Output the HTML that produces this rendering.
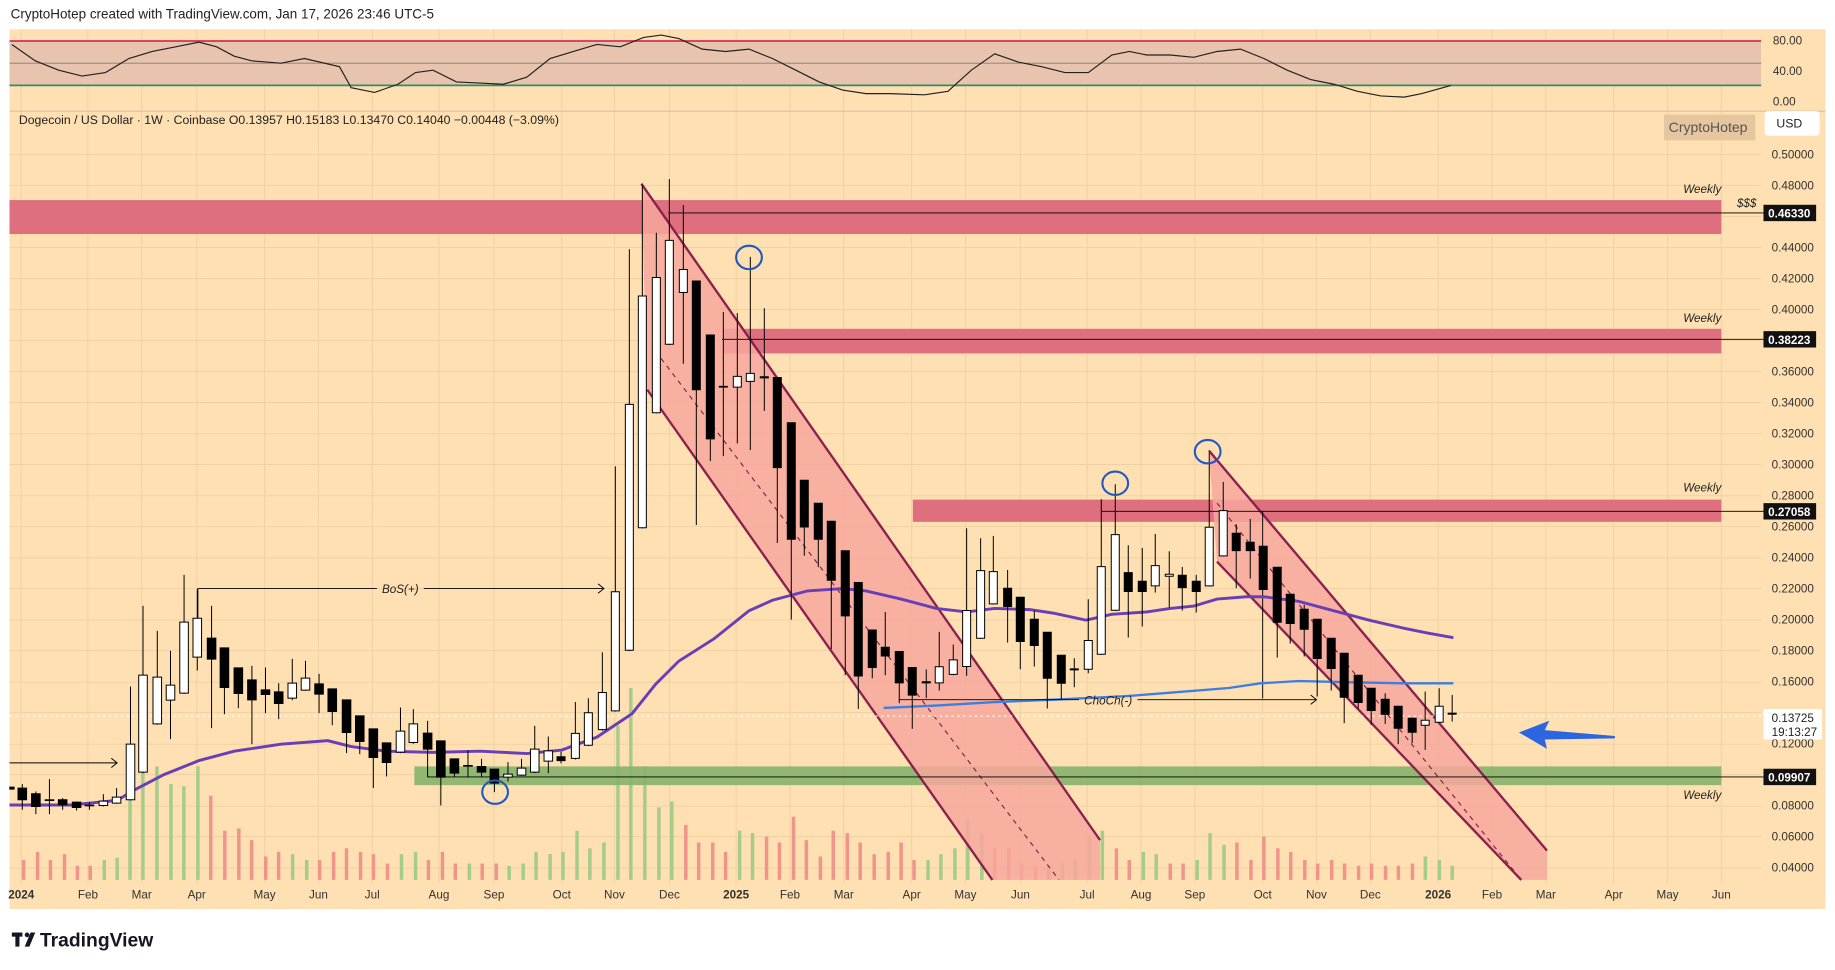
<!DOCTYPE html>
<html><head><meta charset="utf-8"><style>
html,body{margin:0;padding:0;background:#fff;width:1835px;height:970px;overflow:hidden}
svg{display:block}
text{font-family:"Liberation Sans",sans-serif}
.cd line{stroke:#000;stroke-width:1;vector-effect:non-scaling-stroke}
.cd .w{fill:#fff;stroke:#000;stroke-width:1;vector-effect:non-scaling-stroke}
.cd .b{fill:#000;stroke:#000;stroke-width:1;vector-effect:non-scaling-stroke}
.ax text{font-size:10px;fill:#333}
.g line{stroke:#f0cfa4;stroke-width:0.8}
</style></head><body>
<svg width="1835" height="970" viewBox="0 0 1568 829" xmlns="http://www.w3.org/2000/svg">
<rect x="0" y="0" width="1568" height="829" fill="#fff"/>
<text x="9" y="16" font-size="11.5" fill="#222">CryptoHotep created with TradingView.com, Jan 17, 2026 23:46 UTC-5</text>
<rect x="8" y="25" width="1552" height="752" fill="#ffe0b2"/>
<g class="g">
<line x1="18" y1="25" x2="18" y2="755"/><line x1="75" y1="25" x2="75" y2="755"/><line x1="121" y1="25" x2="121" y2="755"/><line x1="168" y1="25" x2="168" y2="755"/><line x1="226" y1="25" x2="226" y2="755"/><line x1="272" y1="25" x2="272" y2="755"/><line x1="318" y1="25" x2="318" y2="755"/><line x1="375" y1="25" x2="375" y2="755"/><line x1="422" y1="25" x2="422" y2="755"/><line x1="480" y1="25" x2="480" y2="755"/><line x1="525" y1="25" x2="525" y2="755"/><line x1="572" y1="25" x2="572" y2="755"/><line x1="629" y1="25" x2="629" y2="755"/><line x1="675" y1="25" x2="675" y2="755"/><line x1="721" y1="25" x2="721" y2="755"/><line x1="779" y1="25" x2="779" y2="755"/><line x1="825" y1="25" x2="825" y2="755"/><line x1="872" y1="25" x2="872" y2="755"/><line x1="929" y1="25" x2="929" y2="755"/><line x1="975" y1="25" x2="975" y2="755"/><line x1="1021" y1="25" x2="1021" y2="755"/><line x1="1079" y1="25" x2="1079" y2="755"/><line x1="1125" y1="25" x2="1125" y2="755"/><line x1="1171" y1="25" x2="1171" y2="755"/><line x1="1229" y1="25" x2="1229" y2="755"/><line x1="1275" y1="25" x2="1275" y2="755"/><line x1="1321" y1="25" x2="1321" y2="755"/><line x1="1379" y1="25" x2="1379" y2="755"/><line x1="1425" y1="25" x2="1425" y2="755"/><line x1="1471" y1="25" x2="1471" y2="755"/>
<line x1="8" y1="132" x2="1505" y2="132"/><line x1="8" y1="158.5" x2="1505" y2="158.5"/><line x1="8" y1="185" x2="1505" y2="185"/><line x1="8" y1="211.6" x2="1505" y2="211.6"/><line x1="8" y1="238" x2="1505" y2="238"/><line x1="8" y1="264.6" x2="1505" y2="264.6"/><line x1="8" y1="291" x2="1505" y2="291"/><line x1="8" y1="317.6" x2="1505" y2="317.6"/><line x1="8" y1="344" x2="1505" y2="344"/><line x1="8" y1="370.7" x2="1505" y2="370.7"/><line x1="8" y1="397" x2="1505" y2="397"/><line x1="8" y1="423.7" x2="1505" y2="423.7"/><line x1="8" y1="450" x2="1505" y2="450"/><line x1="8" y1="476.8" x2="1505" y2="476.8"/><line x1="8" y1="503" x2="1505" y2="503"/><line x1="8" y1="529.8" x2="1505" y2="529.8"/><line x1="8" y1="556" x2="1505" y2="556"/><line x1="8" y1="583" x2="1505" y2="583"/><line x1="8" y1="609" x2="1505" y2="609"/><line x1="8" y1="636" x2="1505" y2="636"/><line x1="8" y1="662" x2="1505" y2="662"/><line x1="8" y1="689" x2="1505" y2="689"/><line x1="8" y1="715" x2="1505" y2="715"/><line x1="8" y1="742" x2="1505" y2="742"/>
</g>
<rect x="8" y="35" width="1497" height="38" fill="#e8c3ae"/>
<line x1="8" y1="35" x2="1505" y2="35" stroke="#d0325a" stroke-width="1.5"/>
<line x1="8" y1="54" x2="1505" y2="54" stroke="#8a7a70" stroke-width="0.7"/>
<line x1="8" y1="73" x2="1505" y2="73" stroke="#2f8f67" stroke-width="1.5"/>
<line x1="8" y1="95" x2="1560" y2="95" stroke="#d9c2a0" stroke-width="1"/>
<polyline fill="none" stroke="#222" stroke-width="1" points="10,38 30,52 50,60 70,65 90,62 110,50 130,44 150,40 170,36 185,40 200,48 215,52 240,54 260,50 290,57 300,75 320,79 340,72 355,62 370,60 390,70 410,71 430,72 450,66 470,50 490,44 510,38 530,40 550,32 565,30 580,33 600,42 620,44 640,42 660,50 680,60 700,70 720,77 740,80 760,80 790,81 810,78 830,60 850,46 870,53 890,57 910,62 930,62 950,47 965,44 980,47 1000,47 1020,49 1040,44 1060,42 1080,50 1100,60 1120,68 1140,72 1160,78 1180,82 1200,83 1215,80 1240,73"/>
<g class="ax"><text x="1515" y="38">80.00</text><text x="1515" y="64">40.00</text><text x="1515" y="90">0.00</text></g>
<text x="16" y="106" font-size="10.5" fill="#222">Dogecoin / US Dollar · 1W · Coinbase  O0.13957  H0.15183  L0.13470  C0.14040  −0.00448 (−3.09%)</text>
<rect x="1422" y="98" width="78" height="22" fill="#e6c69e"/>
<text x="1426" y="113" font-size="12" fill="#555">CryptoHotep</text>
<rect x="1508" y="95" width="47" height="21" rx="3" fill="#fff"/>
<text x="1518" y="109" font-size="10.5" fill="#222">USD</text>
<g stroke-width="3">
<line x1="20" y1="752" x2="20" y2="735" stroke="#f0958a"/><line x1="32" y1="752" x2="32" y2="728" stroke="#f0958a"/><line x1="43" y1="752" x2="43" y2="735" stroke="#f0958a"/><line x1="55" y1="752" x2="55" y2="730" stroke="#f0958a"/><line x1="66" y1="752" x2="66" y2="740" stroke="#f0958a"/><line x1="77" y1="752" x2="77" y2="740" stroke="#f0958a"/><line x1="89" y1="752" x2="89" y2="735" stroke="#a6cc8a"/><line x1="100" y1="752" x2="100" y2="733" stroke="#a6cc8a"/><line x1="111" y1="752" x2="111" y2="640" stroke="#a6cc8a"/><line x1="122" y1="752" x2="122" y2="600" stroke="#a6cc8a"/><line x1="134" y1="752" x2="134" y2="655" stroke="#a6cc8a"/><line x1="146" y1="752" x2="146" y2="670" stroke="#a6cc8a"/><line x1="157" y1="752" x2="157" y2="672" stroke="#a6cc8a"/><line x1="169" y1="752" x2="169" y2="655" stroke="#a6cc8a"/><line x1="180" y1="752" x2="180" y2="680" stroke="#f0958a"/><line x1="192" y1="752" x2="192" y2="710" stroke="#f0958a"/><line x1="204" y1="752" x2="204" y2="708" stroke="#f0958a"/><line x1="215" y1="752" x2="215" y2="718" stroke="#f0958a"/><line x1="227" y1="752" x2="227" y2="732" stroke="#f0958a"/><line x1="238" y1="752" x2="238" y2="728" stroke="#f0958a"/><line x1="250" y1="752" x2="250" y2="730" stroke="#a6cc8a"/><line x1="262" y1="752" x2="262" y2="735" stroke="#a6cc8a"/><line x1="273" y1="752" x2="273" y2="735" stroke="#f0958a"/><line x1="285" y1="752" x2="285" y2="728" stroke="#f0958a"/><line x1="296" y1="752" x2="296" y2="725" stroke="#f0958a"/><line x1="308" y1="752" x2="308" y2="728" stroke="#f0958a"/><line x1="319" y1="752" x2="319" y2="730" stroke="#f0958a"/><line x1="331" y1="752" x2="331" y2="738" stroke="#f0958a"/><line x1="343" y1="752" x2="343" y2="730" stroke="#a6cc8a"/><line x1="355" y1="752" x2="355" y2="728" stroke="#a6cc8a"/><line x1="366" y1="752" x2="366" y2="735" stroke="#f0958a"/><line x1="378" y1="752" x2="378" y2="728" stroke="#f0958a"/><line x1="389" y1="752" x2="389" y2="738" stroke="#f0958a"/><line x1="401" y1="752" x2="401" y2="738" stroke="#a6cc8a"/><line x1="412" y1="752" x2="412" y2="738" stroke="#f0958a"/><line x1="424" y1="752" x2="424" y2="738" stroke="#f0958a"/><line x1="435" y1="752" x2="435" y2="740" stroke="#a6cc8a"/><line x1="447" y1="752" x2="447" y2="738" stroke="#a6cc8a"/><line x1="458" y1="752" x2="458" y2="728" stroke="#a6cc8a"/><line x1="470" y1="752" x2="470" y2="730" stroke="#a6cc8a"/><line x1="481" y1="752" x2="481" y2="728" stroke="#a6cc8a"/><line x1="493" y1="752" x2="493" y2="710" stroke="#a6cc8a"/><line x1="504" y1="752" x2="504" y2="725" stroke="#a6cc8a"/><line x1="516" y1="752" x2="516" y2="720" stroke="#a6cc8a"/><line x1="528" y1="752" x2="528" y2="620" stroke="#a6cc8a"/><line x1="539" y1="752" x2="539" y2="588" stroke="#a6cc8a"/><line x1="551" y1="752" x2="551" y2="655" stroke="#a6cc8a"/><line x1="563" y1="752" x2="563" y2="690" stroke="#a6cc8a"/><line x1="574" y1="752" x2="574" y2="685" stroke="#a6cc8a"/><line x1="586" y1="752" x2="586" y2="705" stroke="#f0958a"/><line x1="597" y1="752" x2="597" y2="720" stroke="#f0958a"/><line x1="609" y1="752" x2="609" y2="720" stroke="#f0958a"/><line x1="620" y1="752" x2="620" y2="728" stroke="#f0958a"/><line x1="632" y1="752" x2="632" y2="710" stroke="#a6cc8a"/><line x1="643" y1="752" x2="643" y2="712" stroke="#a6cc8a"/><line x1="655" y1="752" x2="655" y2="715" stroke="#f0958a"/><line x1="666" y1="752" x2="666" y2="720" stroke="#f0958a"/><line x1="678" y1="752" x2="678" y2="698" stroke="#f0958a"/><line x1="689" y1="752" x2="689" y2="718" stroke="#f0958a"/><line x1="701" y1="752" x2="701" y2="732" stroke="#f0958a"/><line x1="712" y1="752" x2="712" y2="710" stroke="#f0958a"/><line x1="724" y1="752" x2="724" y2="712" stroke="#f0958a"/><line x1="735" y1="752" x2="735" y2="720" stroke="#f0958a"/><line x1="747" y1="752" x2="747" y2="730" stroke="#f0958a"/><line x1="759" y1="752" x2="759" y2="728" stroke="#f0958a"/><line x1="770" y1="752" x2="770" y2="720" stroke="#f0958a"/><line x1="781" y1="752" x2="781" y2="735" stroke="#f0958a"/><line x1="793" y1="752" x2="793" y2="735" stroke="#a6cc8a"/><line x1="804" y1="752" x2="804" y2="730" stroke="#a6cc8a"/><line x1="816" y1="752" x2="816" y2="725" stroke="#a6cc8a"/><line x1="827" y1="752" x2="827" y2="700" stroke="#a6cc8a"/><line x1="839" y1="752" x2="839" y2="712" stroke="#a6cc8a"/><line x1="850" y1="752" x2="850" y2="725" stroke="#f0958a"/><line x1="862" y1="752" x2="862" y2="725" stroke="#f0958a"/><line x1="873" y1="752" x2="873" y2="738" stroke="#f0958a"/><line x1="885" y1="752" x2="885" y2="740" stroke="#f0958a"/><line x1="896" y1="752" x2="896" y2="740" stroke="#f0958a"/><line x1="908" y1="752" x2="908" y2="738" stroke="#a6cc8a"/><line x1="919" y1="752" x2="919" y2="735" stroke="#a6cc8a"/><line x1="931" y1="752" x2="931" y2="715" stroke="#a6cc8a"/><line x1="942" y1="752" x2="942" y2="710" stroke="#a6cc8a"/><line x1="954" y1="752" x2="954" y2="725" stroke="#f0958a"/><line x1="965" y1="752" x2="965" y2="735" stroke="#f0958a"/><line x1="977" y1="752" x2="977" y2="728" stroke="#a6cc8a"/><line x1="988" y1="752" x2="988" y2="730" stroke="#a6cc8a"/><line x1="1000" y1="752" x2="1000" y2="738" stroke="#f0958a"/><line x1="1011" y1="752" x2="1011" y2="738" stroke="#f0958a"/><line x1="1023" y1="752" x2="1023" y2="735" stroke="#a6cc8a"/><line x1="1034" y1="752" x2="1034" y2="712" stroke="#a6cc8a"/><line x1="1046" y1="752" x2="1046" y2="722" stroke="#a6cc8a"/><line x1="1057" y1="752" x2="1057" y2="720" stroke="#f0958a"/><line x1="1069" y1="752" x2="1069" y2="735" stroke="#f0958a"/><line x1="1080" y1="752" x2="1080" y2="715" stroke="#f0958a"/><line x1="1092" y1="752" x2="1092" y2="725" stroke="#f0958a"/><line x1="1103" y1="752" x2="1103" y2="728" stroke="#f0958a"/><line x1="1115" y1="752" x2="1115" y2="735" stroke="#f0958a"/><line x1="1126" y1="752" x2="1126" y2="738" stroke="#f0958a"/><line x1="1138" y1="752" x2="1138" y2="735" stroke="#f0958a"/><line x1="1149" y1="752" x2="1149" y2="738" stroke="#f0958a"/><line x1="1161" y1="752" x2="1161" y2="740" stroke="#f0958a"/><line x1="1172" y1="752" x2="1172" y2="738" stroke="#f0958a"/><line x1="1184" y1="752" x2="1184" y2="740" stroke="#f0958a"/><line x1="1195" y1="752" x2="1195" y2="740" stroke="#f0958a"/><line x1="1207" y1="752" x2="1207" y2="738" stroke="#f0958a"/><line x1="1218" y1="752" x2="1218" y2="732" stroke="#a6cc8a"/><line x1="1230" y1="752" x2="1230" y2="735" stroke="#a6cc8a"/><line x1="1241" y1="752" x2="1241" y2="740" stroke="#a6cc8a"/>
</g>
<rect x="8" y="171" width="1463" height="29" fill="#dd6f7f"/>
<rect x="618" y="281" width="853" height="21" fill="#dd6f7f"/>
<rect x="780" y="427" width="691" height="19" fill="#dd6f7f"/>
<rect x="354" y="655" width="1117" height="16" fill="#86b26a" fill-opacity="0.9"/>
<polygon points="548,157 940,718 940,752 848,752 553,333" fill="#f7a79c" fill-opacity="0.85"/>
<line x1="548" y1="157" x2="940" y2="718" stroke="#8b1f4e" stroke-width="2"/>
<line x1="553" y1="333" x2="848" y2="752" stroke="#8b1f4e" stroke-width="2"/>
<line x1="560" y1="300" x2="905" y2="752" stroke="#8b1f4e" stroke-width="1" stroke-dasharray="4,4"/>
<polygon points="1033,385 1322,727 1322,752 1300,752 1040,480" fill="#f7a79c" fill-opacity="0.85"/>
<line x1="1033" y1="385" x2="1322" y2="727" stroke="#8b1f4e" stroke-width="2"/>
<line x1="1040" y1="480" x2="1300" y2="752" stroke="#8b1f4e" stroke-width="2"/>
<line x1="1040" y1="430" x2="1300" y2="752" stroke="#8b1f4e" stroke-width="1" stroke-dasharray="4,4"/>
<line x1="571" y1="182" x2="1507" y2="182" stroke="#000" stroke-width="0.8"/>
<line x1="617" y1="290" x2="1507" y2="290" stroke="#000" stroke-width="0.8"/>
<line x1="941" y1="437" x2="1507" y2="437" stroke="#000" stroke-width="0.8"/>
<line x1="365" y1="664" x2="1507" y2="664" stroke="#000" stroke-width="0.8"/>
<line x1="1079" y1="437" x2="1079" y2="597" stroke="#000" stroke-width="0.8"/>
<line x1="8" y1="612" x2="1505" y2="612" stroke="#fff" stroke-width="1" stroke-dasharray="2,3"/>
<polyline fill="none" stroke="#6a3fb5" stroke-width="2.5" points="8,688 60,688 100,684 115,675 140,662 170,650 200,642 240,636 280,633 300,638 330,642 370,643 410,642 450,644 480,641 510,630 540,610 560,585 580,565 610,546 640,522 660,513 690,505 720,503 740,505 770,512 800,520 826,523 850,520 880,521 900,524 928,530 950,525 980,523 1000,520 1020,518 1040,512 1065,510 1080,510 1110,514 1140,522 1170,530 1200,537 1220,541 1242,545"/>
<polyline fill="none" stroke="#3d7fe0" stroke-width="2" points="755,605 800,603 850,600 900,598 962,595 1000,592 1050,588 1077,584 1110,582 1150,583 1200,584 1242,584"/>
<polyline fill="none" stroke="#000" stroke-width="0.8" points="169,528 169,503 322,503"/>
<line x1="362" y1="503" x2="516" y2="503" stroke="#000" stroke-width="0.8"/>
<polyline fill="none" stroke="#000" stroke-width="0.8" points="511,499 516,503 511,507"/>
<text x="342" y="507" font-size="10" font-style="italic" text-anchor="middle" fill="#222">BoS(+)</text>
<line x1="8" y1="652" x2="100" y2="652" stroke="#000" stroke-width="0.8"/>
<polyline fill="none" stroke="#000" stroke-width="0.8" points="95,648 100,652 95,656"/>
<line x1="768" y1="598" x2="922" y2="598" stroke="#000" stroke-width="0.8"/>
<line x1="972" y1="598" x2="1125" y2="598" stroke="#000" stroke-width="0.8"/>
<polyline fill="none" stroke="#000" stroke-width="0.8" points="1120,594 1125,598 1120,602"/>
<text x="947" y="602" font-size="10" font-style="italic" text-anchor="middle" fill="#222">ChoCh(-)</text>
<g font-size="10" font-style="italic" fill="#222" text-anchor="end"><text x="1471" y="165">Weekly</text><text x="1471" y="275">Weekly</text><text x="1471" y="420">Weekly</text><text x="1471" y="683">Weekly</text><text x="1501" y="177">$$$</text></g>
<g class="cd" transform="translate(0,461.4) scale(0.3052,0.2848)">
<rect class="b" x="27" y="742" width="12" height="6"/>
<line x1="62" y1="733" x2="62" y2="810"/><rect class="b" x="50" y="745" width="24" height="35"/>
<line x1="100" y1="755" x2="100" y2="823"/><rect class="b" x="88" y="762" width="24" height="38"/>
<line x1="138" y1="718" x2="138" y2="823"/><rect class="b" x="126" y="780" width="24" height="2"/>
<line x1="175" y1="775" x2="175" y2="810"/><rect class="b" x="163" y="780" width="24" height="15"/>
<line x1="214" y1="785" x2="214" y2="812"/><rect class="b" x="202" y="787" width="24" height="16"/>
<line x1="250" y1="787" x2="250" y2="810"/><rect class="b" x="238" y="796" width="24" height="2"/>
<line x1="289" y1="763" x2="289" y2="800"/><rect class="w" x="277" y="784" width="24" height="13"/>
<line x1="326" y1="745" x2="326" y2="792"/><rect class="w" x="314" y="772" width="24" height="18"/>
<line x1="365" y1="440" x2="365" y2="782"/><rect class="w" x="353" y="613" width="24" height="167"/>
<line x1="400" y1="198" x2="400" y2="700"/><rect class="w" x="388" y="406" width="24" height="291"/>
<line x1="440" y1="273" x2="440" y2="555"/><rect class="w" x="428" y="412" width="24" height="140"/>
<line x1="477" y1="333" x2="477" y2="598"/><rect class="w" x="465" y="436" width="24" height="45"/>
<line x1="515" y1="105" x2="515" y2="462"/><rect class="w" x="503" y="247" width="24" height="213"/>
<line x1="552" y1="148" x2="552" y2="392"/><rect class="w" x="540" y="235" width="24" height="117"/>
<line x1="592" y1="198" x2="592" y2="565"/><rect class="b" x="580" y="295" width="24" height="63"/>
<line x1="628" y1="324" x2="628" y2="523"/><rect class="b" x="616" y="324" width="24" height="119"/>
<line x1="667" y1="384" x2="667" y2="505"/><rect class="b" x="655" y="384" width="24" height="77"/>
<line x1="705" y1="378" x2="705" y2="613"/><rect class="b" x="693" y="420" width="24" height="60"/>
<line x1="743" y1="383" x2="743" y2="520"/><rect class="b" x="731" y="450" width="24" height="14"/>
<line x1="780" y1="430" x2="780" y2="538"/><rect class="b" x="768" y="456" width="24" height="35"/>
<line x1="818" y1="357" x2="818" y2="481"/><rect class="w" x="806" y="430" width="24" height="45"/>
<line x1="855" y1="363" x2="855" y2="453"/><rect class="w" x="843" y="415" width="24" height="36"/>
<line x1="893" y1="402" x2="893" y2="520"/><rect class="b" x="881" y="432" width="24" height="31"/>
<line x1="930" y1="447" x2="930" y2="556"/><rect class="b" x="918" y="447" width="24" height="68"/>
<line x1="970" y1="480" x2="970" y2="640"/><rect class="b" x="958" y="480" width="24" height="98"/>
<line x1="1007" y1="528" x2="1007" y2="643"/><rect class="b" x="995" y="528" width="24" height="77"/>
<line x1="1045" y1="567" x2="1045" y2="745"/><rect class="b" x="1033" y="567" width="24" height="86"/>
<line x1="1082" y1="609" x2="1082" y2="710"/><rect class="b" x="1070" y="609" width="24" height="59"/>
<line x1="1121" y1="503" x2="1121" y2="640"/><rect class="w" x="1109" y="574" width="24" height="63"/>
<line x1="1157" y1="508" x2="1157" y2="612"/><rect class="w" x="1145" y="552" width="24" height="56"/>
<line x1="1197" y1="543" x2="1197" y2="712"/><rect class="b" x="1185" y="580" width="24" height="48"/>
<line x1="1234" y1="603" x2="1234" y2="797"/><rect class="b" x="1222" y="603" width="24" height="109"/>
<line x1="1272" y1="657" x2="1272" y2="712"/><rect class="b" x="1260" y="657" width="24" height="43"/>
<line x1="1310" y1="632" x2="1310" y2="712"/><rect class="b" x="1298" y="677" width="24" height="2"/>
<line x1="1348" y1="657" x2="1348" y2="712"/><rect class="b" x="1336" y="680" width="24" height="17"/>
<line x1="1384" y1="688" x2="1384" y2="757"/><rect class="b" x="1372" y="688" width="24" height="42"/>
<line x1="1422" y1="667" x2="1422" y2="725"/><rect class="w" x="1410" y="703" width="24" height="9"/>
<line x1="1460" y1="657" x2="1460" y2="708"/><rect class="w" x="1448" y="685" width="24" height="21"/>
<line x1="1497" y1="558" x2="1497" y2="700"/><rect class="w" x="1485" y="628" width="24" height="69"/>
<line x1="1535" y1="590" x2="1535" y2="700"/><rect class="w" x="1523" y="633" width="24" height="31"/>
</g>
<g class="cd" transform="translate(461.4,136.7) scale(0.2848,0.3274)">
<line x1="63" y1="1545" x2="63" y2="1575"/><rect class="b" x="51" y="1558" width="24" height="10"/>
<line x1="106" y1="1415" x2="106" y2="1565"/><rect class="w" x="94" y="1497" width="24" height="65"/>
<line x1="145" y1="1405" x2="145" y2="1530"/><rect class="w" x="133" y="1443" width="24" height="85"/>
<line x1="187" y1="1285" x2="187" y2="1490"/><rect class="w" x="175" y="1390" width="24" height="97"/>
<line x1="226" y1="800" x2="226" y2="1440"/><rect class="w" x="214" y="1127" width="24" height="311"/>
<line x1="268" y1="233" x2="268" y2="1282"/><rect class="w" x="256" y="638" width="24" height="642"/>
<line x1="307" y1="65" x2="307" y2="962"/><rect class="w" x="295" y="355" width="24" height="605"/>
<line x1="349" y1="190" x2="349" y2="662"/><rect class="w" x="337" y="307" width="24" height="353"/>
<line x1="388" y1="50" x2="388" y2="483"/><rect class="w" x="376" y="210" width="24" height="271"/>
<line x1="430" y1="118" x2="430" y2="532"/><rect class="w" x="418" y="286" width="24" height="60"/>
<line x1="469" y1="316" x2="469" y2="953"/><rect class="b" x="457" y="316" width="24" height="284"/>
<line x1="511" y1="457" x2="511" y2="786"/><rect class="b" x="499" y="457" width="24" height="271"/>
<line x1="550" y1="397" x2="550" y2="773"/><rect class="b" x="538" y="591" width="24" height="2"/>
<line x1="592" y1="400" x2="592" y2="740"/><rect class="w" x="580" y="565" width="24" height="28"/>
<line x1="631" y1="253" x2="631" y2="757"/><rect class="w" x="619" y="557" width="24" height="21"/>
<line x1="673" y1="387" x2="673" y2="655"/><rect class="b" x="661" y="566" width="24" height="3"/>
<line x1="712" y1="568" x2="712" y2="1000"/><rect class="b" x="700" y="568" width="24" height="235"/>
<line x1="754" y1="686" x2="754" y2="1200"/><rect class="b" x="742" y="686" width="24" height="304"/>
<line x1="793" y1="836" x2="793" y2="1033"/><rect class="b" x="781" y="836" width="24" height="122"/>
<line x1="835" y1="896" x2="835" y2="1063"/><rect class="b" x="823" y="896" width="24" height="94"/>
<line x1="874" y1="943" x2="874" y2="1277"/><rect class="b" x="862" y="943" width="24" height="154"/>
<line x1="916" y1="1020" x2="916" y2="1345"/><rect class="b" x="904" y="1020" width="24" height="170"/>
<line x1="955" y1="1103" x2="955" y2="1433"/><rect class="b" x="943" y="1103" width="24" height="244"/>
<line x1="997" y1="1227" x2="997" y2="1353"/><rect class="b" x="985" y="1227" width="24" height="98"/>
<line x1="1036" y1="1180" x2="1036" y2="1345"/><rect class="b" x="1024" y="1272" width="24" height="23"/>
<line x1="1078" y1="1283" x2="1078" y2="1418"/><rect class="b" x="1066" y="1283" width="24" height="82"/>
<line x1="1117" y1="1325" x2="1117" y2="1485"/><rect class="b" x="1105" y="1325" width="24" height="72"/>
<line x1="1159" y1="1330" x2="1159" y2="1405"/><rect class="b" x="1147" y="1362" width="24" height="3"/>
<line x1="1198" y1="1232" x2="1198" y2="1385"/><rect class="w" x="1186" y="1323" width="24" height="42"/>
<line x1="1240" y1="1265" x2="1240" y2="1345"/><rect class="w" x="1228" y="1305" width="24" height="38"/>
</g>
<g class="cd" transform="translate(820.3,358.9) scale(0.2848,0.2848)">
<line x1="20" y1="325" x2="20" y2="768"/><rect class="w" x="8" y="572" width="24" height="168"/>
<line x1="62" y1="355" x2="62" y2="657"/><rect class="w" x="50" y="452" width="24" height="203"/>
<line x1="100" y1="348" x2="100" y2="554"/><rect class="w" x="88" y="455" width="24" height="97"/>
<line x1="143" y1="450" x2="143" y2="668"/><rect class="b" x="131" y="505" width="24" height="55"/>
<line x1="181" y1="532" x2="181" y2="748"/><rect class="b" x="169" y="532" width="24" height="133"/>
<line x1="223" y1="572" x2="223" y2="740"/><rect class="b" x="211" y="598" width="24" height="79"/>
<line x1="262" y1="637" x2="262" y2="866"/><rect class="b" x="250" y="637" width="24" height="138"/>
<line x1="304" y1="706" x2="304" y2="838"/><rect class="b" x="292" y="706" width="24" height="84"/>
<line x1="343" y1="715" x2="343" y2="802"/><rect class="b" x="331" y="747" width="24" height="3"/>
<line x1="385" y1="538" x2="385" y2="760"/><rect class="w" x="373" y="662" width="24" height="86"/>
<line x1="424" y1="238" x2="424" y2="705"/><rect class="w" x="412" y="440" width="24" height="263"/>
<line x1="466" y1="193" x2="466" y2="573"/><rect class="w" x="454" y="344" width="24" height="227"/>
<line x1="505" y1="376" x2="505" y2="653"/><rect class="b" x="493" y="458" width="24" height="57"/>
<line x1="547" y1="384" x2="547" y2="620"/><rect class="b" x="535" y="484" width="24" height="31"/>
<line x1="586" y1="342" x2="586" y2="518"/><rect class="w" x="574" y="437" width="24" height="61"/>
<line x1="628" y1="394" x2="628" y2="563"/><rect class="w" x="616" y="463" width="24" height="6"/>
<line x1="667" y1="441" x2="667" y2="572"/><rect class="b" x="655" y="466" width="24" height="37"/>
<line x1="709" y1="465" x2="709" y2="578"/><rect class="b" x="697" y="484" width="24" height="31"/>
<line x1="748" y1="98" x2="748" y2="500"/><rect class="w" x="736" y="322" width="24" height="176"/>
<line x1="790" y1="186" x2="790" y2="410"/><rect class="w" x="778" y="272" width="24" height="136"/>
<line x1="829" y1="313" x2="829" y2="505"/><rect class="b" x="817" y="340" width="24" height="52"/>
<line x1="871" y1="297" x2="871" y2="476"/><rect class="b" x="859" y="367" width="24" height="25"/>
<line x1="910" y1="379" x2="910" y2="509"/><rect class="b" x="898" y="379" width="24" height="130"/>
<line x1="952" y1="442" x2="952" y2="713"/><rect class="b" x="940" y="442" width="24" height="165"/>
<line x1="991" y1="523" x2="991" y2="671"/><rect class="b" x="979" y="523" width="24" height="88"/>
<line x1="1033" y1="555" x2="1033" y2="710"/><rect class="b" x="1021" y="568" width="24" height="60"/>
<line x1="1072" y1="598" x2="1072" y2="830"/><rect class="b" x="1060" y="598" width="24" height="118"/>
<line x1="1114" y1="655" x2="1114" y2="812"/><rect class="b" x="1102" y="655" width="24" height="91"/>
<line x1="1153" y1="700" x2="1153" y2="910"/><rect class="b" x="1141" y="700" width="24" height="132"/>
<line x1="1195" y1="766" x2="1195" y2="866"/><rect class="b" x="1183" y="766" width="24" height="82"/>
<line x1="1234" y1="805" x2="1234" y2="915"/><rect class="b" x="1222" y="805" width="24" height="67"/>
<line x1="1276" y1="820" x2="1276" y2="912"/><rect class="b" x="1264" y="838" width="24" height="45"/>
<line x1="1315" y1="859" x2="1315" y2="973"/><rect class="b" x="1303" y="859" width="24" height="66"/>
<line x1="1357" y1="893" x2="1357" y2="970"/><rect class="b" x="1345" y="895" width="24" height="42"/>
<line x1="1396" y1="815" x2="1396" y2="990"/><rect class="w" x="1384" y="901" width="24" height="15"/>
<line x1="1438" y1="805" x2="1438" y2="909"/><rect class="w" x="1426" y="859" width="24" height="48"/>
<line x1="1477" y1="825" x2="1477" y2="905"/><rect class="b" x="1465" y="880" width="24" height="3"/>
</g>
<g fill="none" stroke="#2456c0" stroke-width="1.8">
<ellipse cx="640" cy="220" rx="11" ry="10"/><ellipse cx="953" cy="413" rx="11" ry="10"/><ellipse cx="1032" cy="386" rx="11" ry="10"/><ellipse cx="423" cy="677" rx="11" ry="10"/>
</g>
<polygon points="1298,626 1324,616 1320,624 1380,629 1380,631 1320,632 1322,640" fill="#2b66e0"/>
<g class="ax">
<text x="1514" y="135.5">0.50000</text><text x="1514" y="162">0.48000</text><text x="1514" y="215">0.44000</text><text x="1514" y="241.5">0.42000</text><text x="1514" y="268">0.40000</text><text x="1514" y="321">0.36000</text><text x="1514" y="347.5">0.34000</text><text x="1514" y="374">0.32000</text><text x="1514" y="400.5">0.30000</text><text x="1514" y="427">0.28000</text><text x="1514" y="453.5">0.26000</text><text x="1514" y="480">0.24000</text><text x="1514" y="506.5">0.22000</text><text x="1514" y="533">0.20000</text><text x="1514" y="559.5">0.18000</text><text x="1514" y="586">0.16000</text><text x="1514" y="639">0.12000</text><text x="1514" y="692">0.08000</text><text x="1514" y="718.5">0.06000</text><text x="1514" y="745">0.04000</text>
</g>
<g font-size="10" font-weight="bold" fill="#fff">
<rect x="1507" y="175" width="45" height="14" fill="#111"/><text x="1511" y="186">0.46330</text>
<rect x="1507" y="283" width="45" height="14" fill="#111"/><text x="1511" y="294">0.38223</text>
<rect x="1507" y="430" width="45" height="14" fill="#111"/><text x="1511" y="441">0.27058</text>
<rect x="1507" y="657" width="45" height="14" fill="#111"/><text x="1511" y="668">0.09907</text>
</g>
<rect x="1507" y="606" width="50" height="26" fill="#fff"/>
<text x="1514" y="617" font-size="10" fill="#222">0.13725</text>
<text x="1514" y="629" font-size="10" fill="#222">19:13:27</text>
<g class="ax" text-anchor="middle">
<text x="18" y="768" font-weight="bold">2024</text><text x="75" y="768">Feb</text><text x="121" y="768">Mar</text><text x="168" y="768">Apr</text><text x="226" y="768">May</text><text x="272" y="768">Jun</text><text x="318" y="768">Jul</text><text x="375" y="768">Aug</text><text x="422" y="768">Sep</text><text x="480" y="768">Oct</text><text x="525" y="768">Nov</text><text x="572" y="768">Dec</text><text x="629" y="768" font-weight="bold">2025</text><text x="675" y="768">Feb</text><text x="721" y="768">Mar</text><text x="779" y="768">Apr</text><text x="825" y="768">May</text><text x="872" y="768">Jun</text><text x="929" y="768">Jul</text><text x="975" y="768">Aug</text><text x="1021" y="768">Sep</text><text x="1079" y="768">Oct</text><text x="1125" y="768">Nov</text><text x="1171" y="768">Dec</text><text x="1229" y="768" font-weight="bold">2026</text><text x="1275" y="768">Feb</text><text x="1321" y="768">Mar</text><text x="1379" y="768">Apr</text><text x="1425" y="768">May</text><text x="1471" y="768">Jun</text>
</g>
<g fill="#131722">
<rect x="10" y="797" width="9" height="3.5"/><rect x="13" y="797" width="3.5" height="12"/>
<circle cx="23" cy="799" r="2"/><polygon points="26,797 30,797 25,809 21,809"/>
</g>
<text x="34" y="809" font-size="16.5" font-weight="bold" fill="#131722">TradingView</text>
</svg>
</body></html>
